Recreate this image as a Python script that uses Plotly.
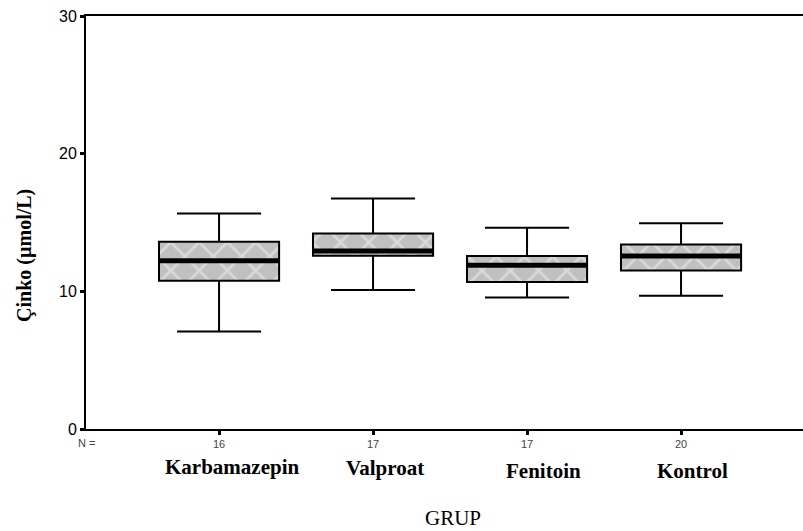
import plotly.graph_objects as go

groups = ["Karbamazepin", "Valproat", "Fenitoin", "Kontrol"]
n_values = ["16", "17", "17", "20"]
lower_whisker = [7.09, 10.09, 9.56, 9.68]
q1 = [10.77, 12.59, 10.67, 11.52]
median = [12.22, 12.93, 11.89, 12.56]
q3 = [13.60, 14.21, 12.56, 13.41]
upper_whisker = [15.66, 16.75, 14.62, 14.94]
y_ticks = [0, 10, 20, 30]

pos = list(range(len(groups)))
box_w = 0.78

fig = go.Figure()

# patterned fill of the boxes
fig.add_trace(go.Bar(
    x=pos, y=[b - a for a, b in zip(q1, q3)], base=q1, width=box_w,
    marker=dict(color="#c0c0c0", line=dict(width=0),
                pattern=dict(shape="x", bgcolor="#c0c0c0", fgcolor="#f2f2f2",
                             size=20, solidity=0.25, fillmode="overlay")),
    showlegend=False, hoverinfo="skip"))

fig.add_trace(go.Box(
    x=pos, q1=q1, median=median, q3=q3,
    lowerfence=lower_whisker, upperfence=upper_whisker,
    width=box_w, whiskerwidth=0.7,
    fillcolor="rgba(0,0,0,0)", line=dict(color="black", width=2),
    boxpoints=False, showlegend=False))

# thick median lines
fig.add_trace(go.Scatter(
    x=pos, y=median, mode="markers",
    marker=dict(symbol="line-ew", size=86,
                line=dict(color="black", width=5)),
    showlegend=False, hoverinfo="skip"))

fig.update_layout(
    width=803, height=531,
    margin=dict(l=86, r=0, t=16, b=102, autoexpand=False),
    paper_bgcolor="white", plot_bgcolor="white",
    barmode="overlay",
    xaxis=dict(range=[-0.864, 3.792], tickmode="array", tickvals=pos,
               ticktext=n_values, showgrid=False, zeroline=False,
               automargin=False,
               showline=True, linecolor="black", linewidth=2, mirror=True,
               ticks="outside", ticklen=4, tickwidth=3, tickcolor="black",
               tickfont=dict(family="Arial, Liberation Sans", size=11, color="#444")),
    yaxis=dict(range=[0, 30], tickmode="array", tickvals=y_ticks,
               showgrid=False, zeroline=False, automargin=False,
               showline=True, linecolor="black", linewidth=2, mirror=False,
               ticks="outside", ticklen=4, tickwidth=3, tickcolor="black",
               tickfont=dict(family="Arial, Liberation Sans", size=16, color="black")),
)

serif = "Liberation Serif, Times New Roman, serif"
label_shift = [13, 12, 16, 11]
label_y = [-38, -39, -42, -42]
for p, g, dx, dy in zip(pos, groups, label_shift, label_y):
    fig.add_annotation(x=p, y=0, xref="x", yref="paper", text=f"<b>{g}</b>",
                       showarrow=False, xanchor="center", yanchor="middle",
                       xshift=dx, yshift=dy,
                       font=dict(family=serif, size=21, color="black"))

fig.add_annotation(x=0, y=0, xref="paper", yref="paper", text="N =",
                   showarrow=False, xanchor="center", yanchor="middle",
                   yshift=-14,
                   font=dict(family="Arial, Liberation Sans", size=11, color="#444"))

fig.add_annotation(x=0, y=0.419, xref="paper", yref="paper",
                   text="<b>Çinko (µmol/L)</b>", textangle=-90,
                   showarrow=False, xanchor="center", yanchor="middle",
                   xshift=-61,
                   font=dict(family=serif, size=20, color="black"))

fig.add_annotation(x=0.512, y=0, xref="paper", yref="paper", text="GRUP",
                   showarrow=False, xanchor="center", yanchor="middle",
                   yshift=-89,
                   font=dict(family=serif, size=21, color="black"))

fig.write_html("out.html", config={"displayModeBar": False},
               post_script="document.body.style.margin='0';")
